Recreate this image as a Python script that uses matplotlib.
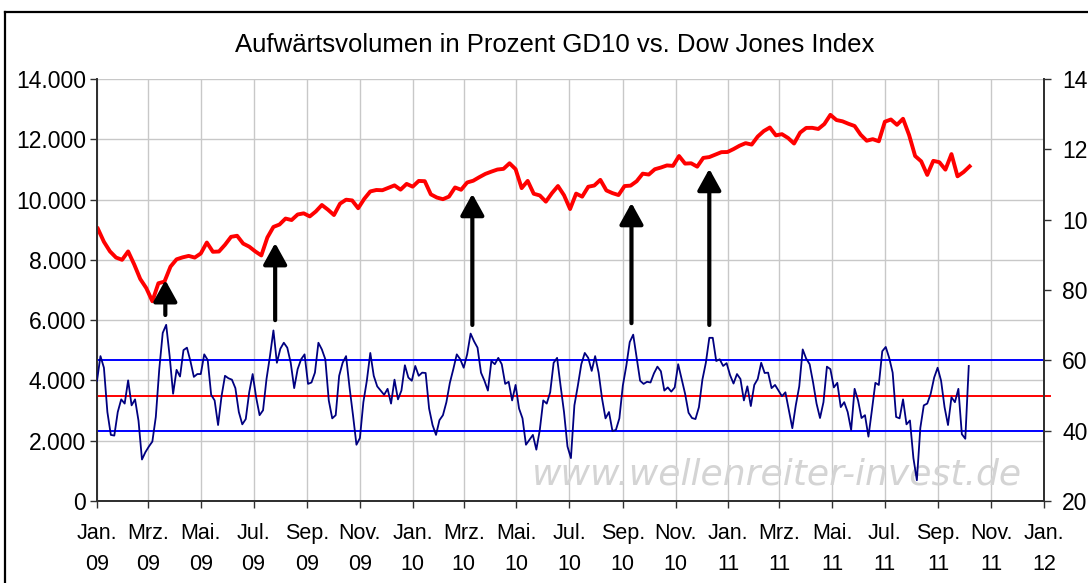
import matplotlib
matplotlib.use('Agg')
import numpy as np
import pandas as pd
import matplotlib.pyplot as plt
from matplotlib.lines import Line2D

plt.rcParams['font.family'] = ['Liberation Sans', 'DejaVu Sans']

# Dow Jones Index, weekly closes (left axis)
dow_start = '2009-01-02'
dow = [9034, 8599, 8281, 8077, 8001, 8280, 7850, 7366, 7062, 6627, 7224, 7278, 7776,
       8018, 8083, 8131, 8076, 8212, 8575, 8268, 8277, 8500, 8764, 8799, 8540, 8438,
       8280, 8146, 8743, 9093, 9172, 9370, 9321, 9505, 9544, 9441, 9605, 9820, 9665,
       9487, 9865, 9996, 9972, 9713, 10023, 10270, 10318, 10310, 10389, 10471, 10329,
       10520, 10428,
       10618, 10610, 10173, 10067, 10012, 10099, 10402, 10325, 10567, 10625, 10742, 10851,
       10927, 10997, 11019, 11204, 11009, 10380, 10620, 10193, 10137, 9931, 10212, 10450,
       10144, 9686, 10198, 10097, 10425, 10466, 10654, 10303, 10214, 10150, 10448, 10463,
       10608, 10860, 10830, 11006, 11063, 11133, 11118, 11445, 11193, 11204, 11092, 11382,
       11410, 11492, 11573, 11578,
       11675, 11787, 11872, 11824, 12092, 12273, 12391, 12130, 12170, 12044, 11859, 12221,
       12377, 12380, 12342, 12506, 12811, 12639, 12596, 12513, 12441, 12152, 11952, 12004,
       11934, 12583, 12657, 12480, 12681, 12143, 11445, 11269, 10818, 11285, 11240, 10992,
       11509, 10771, 10913, 11103]

# Aufwaertsvolumen in Prozent, GD10 (right axis), one value every 4 days
vol_start = '2009-01-01'
vol_step_days = 4
vol = [54.2, 61.2, 57.9, 45.3, 38.8, 38.6, 45.3, 48.9, 47.7, 54.3, 47.2, 48.9, 42.8, 31.8,
       33.9, 35.5, 36.9, 43.9, 57.5, 67.8, 70.1, 61.2, 50.5, 57.3, 55.4, 62.9, 63.6, 59.8,
       55.3, 56.1, 56.1, 61.7, 60.1, 50.2, 48.6, 41.6, 49.8, 55.6, 54.9, 54.5, 52.1, 45.3,
       41.8, 43.3, 50.9, 56.1,
       49.5, 44.4, 45.8, 54.7, 61.2, 68.5, 59.3, 63.3, 65.0, 63.6, 59.3, 52.1, 57.5, 60.3,
       61.7, 53.3, 53.7, 56.5, 65.0, 63.1, 60.3, 48.6, 43.5, 44.4, 55.6, 59.3, 61.2, 52.3,
       44.4, 36.0, 37.9, 48.1, 54.2, 62.1, 55.6, 52.6, 51.4, 50.2, 51.9, 47.7, 54.5, 48.9,
       51.4, 58.6,
       55.1, 54.2, 58.4, 55.6, 56.5, 56.4, 46.3, 41.6, 38.8, 43.0, 44.4, 48.1, 53.6, 57.5,
       61.7, 60.3, 57.9, 61.7, 67.6, 65.4, 63.6, 56.5, 54.2, 51.4, 59.8, 58.9, 60.7, 58.9,
       53.3, 53.9, 48.6, 53.0, 46.3, 43.5, 36.0, 37.4, 38.8, 34.6, 40.2, 48.6, 47.7, 50.9,
       59.3, 60.7, 52.8, 45.3,
       35.5, 32.2, 47.2, 52.8, 58.9, 62.1, 60.7, 57.0, 61.2, 56.5, 49.1, 43.5, 45.3, 39.9,
       40.2, 43.5, 52.8, 58.4, 65.2, 67.3, 60.7, 54.2, 53.3, 53.9, 53.7, 56.3, 58.2, 56.9,
       51.4, 52.3, 51.1, 52.3, 58.9, 54.7, 50.5, 45.1, 43.6, 43.3, 46.7, 54.5, 59.3, 66.4,
       66.4, 59.8, 60.3,
       58.4, 59.2, 55.8, 53.4, 56.1, 54.7, 48.6, 52.6, 47.0, 53.0, 54.7, 59.3, 56.4, 56.5,
       52.1, 53.0, 51.4, 49.8, 50.9, 45.8, 40.7, 47.2, 52.6, 63.1, 60.5, 58.9, 53.7, 47.7,
       43.6, 48.1, 58.2, 57.5, 52.3, 53.6, 46.7, 48.1, 45.3, 40.2, 51.9, 48.6, 43.6, 44.4,
       38.3, 45.8, 53.6,
       53.0, 62.6, 63.8, 60.7, 56.5, 43.9, 43.5, 48.9, 41.8, 42.9, 32.2, 25.9, 40.8, 47.2,
       47.7, 50.5, 55.1, 57.9, 54.2, 46.7, 41.6, 49.5, 48.1, 51.9, 39.0, 37.7, 58.4]

upper_band = 60
mid_line = 50
lower_band = 40

# arrows (date, start value, tip value) on the Dow scale
arrow_dates = ['2009-03-21', '2009-07-26', '2010-03-11', '2010-09-11', '2010-12-10']
arrow_from = [6170, 6000, 5840, 5900, 5840]
arrow_to = [7330, 8560, 10190, 9890, 11020]

month_names = {1: 'Jan.', 3: 'Mrz.', 5: 'Mai.', 7: 'Jul.', 9: 'Sep.', 11: 'Nov.'}
left_ticks = list(range(0, 14001, 2000))
left_labels = ['0', '2.000', '4.000', '6.000', '8.000', '10.000', '12.000', '14.000']
right_ticks = list(range(20, 141, 20))

dow_dates = pd.date_range(dow_start, periods=len(dow), freq='7D')
vol_dates = pd.date_range(vol_start, periods=len(vol), freq='%dD' % vol_step_days)

fig = plt.figure(figsize=(10.88, 5.83), dpi=100)
ax = fig.add_axes([97/1088, 1 - 501/583, (1044-97)/1088, (501-79)/583])
ax2 = ax.twinx()

# frame around the chart
fig.add_artist(Line2D([5/1088, 5/1088], [0, 1 - 12/583], color='black', lw=1.6, transform=fig.transFigure))
fig.add_artist(Line2D([5/1088, 1], [1 - 12/583, 1 - 12/583], color='black', lw=1.6, transform=fig.transFigure))

ax.plot(dow_dates, dow, color='#ff0000', lw=2.8, solid_joinstyle='round', zorder=3)
ax.set_ylim(0, 14000)
ax.set_yticks(left_ticks)
ax.set_yticklabels(left_labels)
ax.set_xlim(pd.Timestamp('2009-01-01'), pd.Timestamp('2012-01-01'))

ticks = pd.date_range('2009-01-01', '2012-01-01', freq='2MS')
ax.set_xticks(ticks)
ax.set_xticklabels(['%s\n%s' % (month_names[t.month], t.strftime('%y')) for t in ticks],
                   linespacing=1.6)

ax.grid(True, color='#c8c8c8', lw=1)
ax.set_axisbelow(True)

for a, d0, d1 in zip(arrow_dates, arrow_from, arrow_to):
    ax.annotate('', xy=(pd.Timestamp(a), d1), xytext=(pd.Timestamp(a), d0),
                arrowprops=dict(arrowstyle='-|>,head_width=0.36,head_length=0.65',
                                lw=3, color='black', mutation_scale=20,
                                shrinkA=0, shrinkB=0), zorder=4)

ax.text(0.718, 0.062, 'www.wellenreiter-invest.de', transform=ax.transAxes,
        fontsize=26, style='italic', family='DejaVu Sans', color='#d4d4d4',
        ha='center', va='center', zorder=1)

ax2.plot(vol_dates, vol, color='#000080', lw=1.3, zorder=3)
ax2.axhline(upper_band, color='#0000ff', lw=1.4, zorder=2)
ax2.axhline(lower_band, color='#0000ff', lw=1.4, zorder=2)
ax2.axhline(mid_line, color='#ff0000', lw=1.4, zorder=2, xmax=1.006, clip_on=False)
ax2.set_ylim(20, 140)
ax2.set_yticks(right_ticks)

for a in (ax, ax2):
    a.spines['top'].set_visible(False)
    for s in ('left', 'right', 'bottom'):
        a.spines[s].set_color('#303030')
        a.spines[s].set_linewidth(1.3)
    a.tick_params(axis='y', direction='out', length=5, width=1, color='#303030',
                  labelsize=16.5, pad=3)
ax.tick_params(axis='x', direction='out', length=5, width=1, color='#303030',
               labelsize=15.5, pad=11)
ax2.tick_params(axis='y', pad=8)

fig.text(555/1088, 1 - 45/583, 'Aufwärtsvolumen in Prozent GD10 vs. Dow Jones Index',
         ha='center', va='center', fontsize=18.5)

fig.savefig('out.png', dpi=100)
